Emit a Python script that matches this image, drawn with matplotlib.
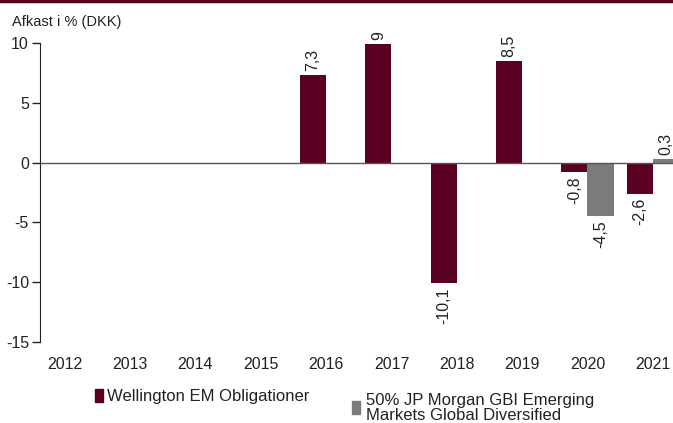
import numpy as np
import matplotlib.pyplot as plt
from matplotlib.lines import Line2D
from matplotlib.patches import Rectangle

# --- DATA ---
years = ["2012", "2013", "2014", "2015", "2016", "2017", "2018", "2019", "2020", "2021"]
wellington = [np.nan, np.nan, np.nan, np.nan, 7.3, 9.9, -10.1, 8.5, -0.8, -2.6]
wellington_labels = ["", "", "", "", "7,3", "9", "-10,1", "8,5", "-0,8", "-2,6"]
benchmark = [np.nan, np.nan, np.nan, np.nan, np.nan, np.nan, np.nan, np.nan, -4.5, 0.3]
benchmark_labels = ["", "", "", "", "", "", "", "", "-4,5", "0,3"]
series_names = ["Wellington EM Obligationer",
                "50% JP Morgan GBI Emerging\nMarkets Global Diversified"]
y_ticks = [-15, -10, -5, 0, 5, 10]

# --- STYLE ---
RED = "#5a0022"
GREY = "#7b7b7b"
plt.rcParams["font.family"] = ["Liberation Sans", "DejaVu Sans"]
plt.rcParams["axes.unicode_minus"] = False
FS = 11.5

fig = plt.figure(figsize=(6.73, 4.23), dpi=100)
ax = fig.add_axes([40 / 673, 81 / 423, 633 / 673, 299 / 423])

x = np.arange(len(years))
w = 0.4
b1 = ax.bar(x - w / 2, wellington, w, color=RED)
b2 = ax.bar(x + w / 2, benchmark, w, color=GREY)

for bars, vals, labs in [(b1, wellington, wellington_labels), (b2, benchmark, benchmark_labels)]:
    for rect, v, lab in zip(bars, vals, labs):
        if np.isnan(v):
            continue
        cx = rect.get_x() + rect.get_width() / 2
        ax.annotate(lab, (cx, v), xytext=(0, 3 if v >= 0 else -3),
                    textcoords="offset points", rotation=90, ha="center",
                    va="bottom" if v >= 0 else "top", fontsize=FS, color="#222222",
                    annotation_clip=False)

ax.axhline(0, color="#555555", lw=1)
ax.set_ylim(-15, 10)
ax.set_xlim(-0.38, 9.31)
ax.set_yticks(y_ticks)
ax.set_xticks(x)
ax.set_xticklabels(years)
ax.tick_params(axis="x", length=0, pad=11, labelsize=FS, colors="#222222")
ax.tick_params(axis="y", length=6, width=1, pad=2, labelsize=FS, colors="#222222")
for s in ["top", "right", "bottom"]:
    ax.spines[s].set_visible(False)
ax.spines["left"].set_color("#222222")

# title and top border
fig.text(12 / 673, 1 - 22 / 423, "Afkast i % (DKK)", fontsize=FS - 1, color="#222222", va="center")
fig.add_artist(Line2D([0, 1], [1 - 1.5 / 423, 1 - 1.5 / 423], color=RED, lw=2.5))

# legend
fig.add_artist(Rectangle((95 / 673, 1 - 402 / 423), 8 / 673, 13 / 423, color=RED))
fig.text(107 / 673, 1 - 396 / 423, series_names[0], fontsize=FS + 0.5, color="#222222", va="center")
fig.add_artist(Rectangle((352 / 673, 1 - 414 / 423), 8 / 673, 13 / 423, color=GREY))
fig.text(366 / 673, 1 - 408 / 423, series_names[1], fontsize=FS + 0.5, color="#222222",
         va="center", linespacing=0.95)

fig.savefig("out.png", dpi=100)
